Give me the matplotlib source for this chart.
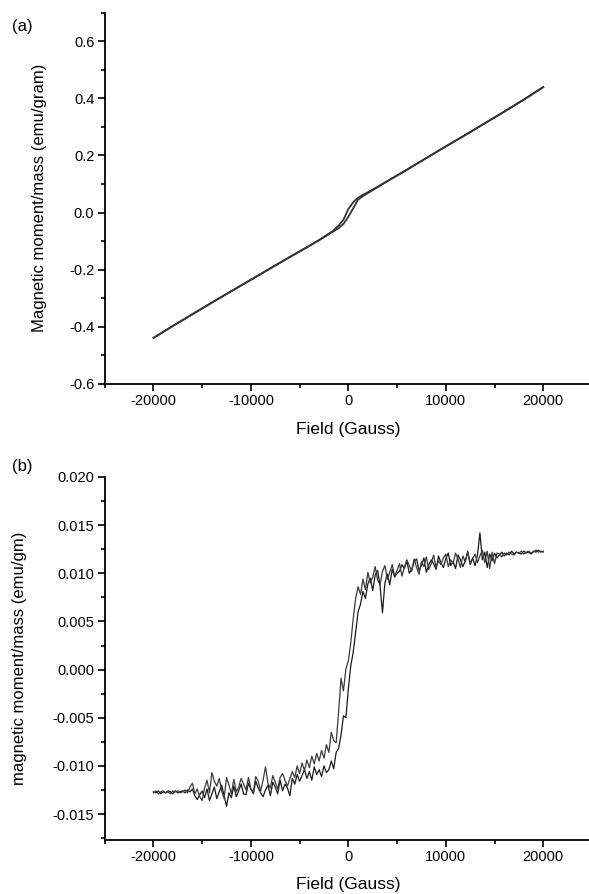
import numpy as np
import matplotlib.pyplot as plt
from matplotlib.ticker import MultipleLocator

plt.rcParams['font.family'] = ['Liberation Sans', 'DejaVu Sans']

# (a) hysteresis loop, emu/gram
field_a = [-20000, -18000, -16000, -14000, -12000, -10000, -8000, -6000, -4000,
           -3000, -2000, -1500, -1000, -500, 0, 500, 1000, 1500, 2000, 3000,
           4000, 6000, 8000, 10000, 12000, 14000, 16000, 18000, 20000]
moment_a_down = [-0.440, -0.398, -0.357, -0.316, -0.276, -0.236, -0.196, -0.156,
                 -0.117, -0.097, -0.076, -0.062, -0.046, -0.025, 0.012, 0.036,
                 0.052, 0.062, 0.071, 0.090, 0.110, 0.150, 0.191, 0.232, 0.272,
                 0.313, 0.354, 0.396, 0.440]
moment_a_up = [-0.440, -0.398, -0.357, -0.316, -0.276, -0.236, -0.196, -0.156,
               -0.117, -0.097, -0.074, -0.066, -0.055, -0.040, -0.015, 0.015,
               0.045, 0.058, 0.068, 0.089, 0.110, 0.150, 0.191, 0.232, 0.272,
               0.313, 0.354, 0.396, 0.440]

# (b) hysteresis loop, field in Gauss, moment in 1e-3 emu/gm
field_b = [-20000, -19750, -19500, -19250, -19000, -18750, -18500, -18250,
           -18000, -17750, -17500, -17250, -17000, -16750, -16500, -16250,
           -16000, -15750, -15500, -15250, -15000, -14750, -14500, -14250,
           -14000, -13750, -13500, -13250, -13000, -12750, -12500, -12250,
           -12000, -11750, -11500, -11250, -11000, -10750, -10500, -10250,
           -10000, -9750, -9500, -9250, -9000, -8750, -8500, -8250,
           -8000, -7750, -7500, -7250, -7000, -6750, -6500, -6250,
           -6000, -5750, -5500, -5250, -5000, -4750, -4500, -4250,
           -4000, -3750, -3500, -3250, -3000, -2750, -2500, -2250,
           -2000, -1750, -1500, -1250, -1000, -750, -500, -250,
           0,
           250, 500, 750, 1000, 1250, 1500, 1750, 2000,
           2250, 2500, 2750, 3000, 3250, 3500, 3750, 4000,
           4250, 4500, 4750, 5000, 5250, 5500, 5750, 6000,
           6250, 6500, 6750, 7000, 7250, 7500, 7750, 8000,
           8250, 8500, 8750, 9000, 9250, 9500, 9750, 10000,
           10250, 10500, 10750, 11000, 11250, 11500, 11750, 12000,
           12250, 12500, 12750, 13000, 13250, 13500, 13750, 14000,
           14250, 14500, 14750, 15000, 15250, 15500, 15750, 16000,
           16250, 16500, 16750, 17000, 17250, 17500, 17750, 18000,
           18250, 18500, 18750, 19000, 19250, 19500, 19750, 20000]
moment_b_up = [
    -12.7, -12.8, -12.6, -12.9, -12.7, -12.8, -12.6, -12.7, -12.9, -12.6,
    -12.8, -12.7, -12.6, -12.8, -12.5, -12.7, -12.4,
    -13.1, -13.5, -13.0, -12.6, -13.3, -12.4, -13.6, -12.9, -12.2, -13.4,
    -12.7, -12.0, -13.1, -14.2, -12.8, -13.3,
    -12.1, -13.2, -12.6, -11.9, -12.9, -13.0, -11.8, -12.4, -12.9, -11.6,
    -12.3, -12.8, -13.2, -12.5, -12.0, -13.1, -11.7, -12.2, -12.9, -11.5,
    -12.6, -11.9, -12.3, -13.1,
    -11.3, -11.9, -10.9, -11.6, -11.0, -10.4, -11.3, -10.6, -11.5, -10.1,
    -10.9, -10.4, -11.1, -10.0, -10.7, -10.4, -9.5, -10.3,
    -8.6, -8.2, -6.8, -4.8, -5.0, -2.0, 0.4, 1.8, 3.9, 6.0, 6.8,
    8.1, 7.4, 8.9, 9.5, 8.2, 9.8, 10.3, 8.7, 5.9, 9.0, 9.9, 8.8, 10.4, 9.6,
    10.0,
    10.2, 10.9, 10.5, 11.3, 10.0, 10.4, 11.2, 11.5, 10.3, 10.8, 11.6, 10.1,
    10.9, 11.4, 11.0, 10.4, 11.8, 11.1, 10.6, 11.5, 12.1, 10.8, 11.2, 10.5,
    11.9, 11.4, 10.7, 11.3, 12.2, 11.0, 11.6, 10.8, 11.9,
    14.2, 11.4, 12.2, 10.6, 12.0, 11.3, 12.1, 11.6,
    11.9, 12.2, 11.8, 12.1, 11.9, 12.3, 12.0, 12.2, 12.1, 12.0, 12.3, 12.1,
    12.2, 12.0, 12.3, 12.2, 12.4, 12.2, 12.3]
moment_b_down = [
    -12.8, -12.6, -12.9, -12.7, -12.6, -12.8, -12.7, -12.9, -12.6, -12.7,
    -12.6, -12.8, -12.7, -12.5, -12.8, -12.2, -11.8,
    -12.9, -12.4, -13.2, -13.6, -12.3, -11.5, -12.8, -10.7, -11.6, -12.1,
    -11.3, -12.6, -13.4, -11.2, -12.0, -12.9,
    -11.4, -12.7, -12.2, -11.3, -11.9, -12.5, -11.2, -12.4, -12.7, -11.1,
    -11.6, -12.6, -11.5, -10.1, -11.8, -12.3, -11.0, -11.7, -12.4, -11.2,
    -10.8, -11.5, -12.1, -11.3,
    -10.6, -11.2, -10.0, -10.8, -9.7, -10.5, -9.4, -10.2, -9.0, -9.8,
    -8.7, -9.5, -8.4, -9.2, -7.8, -8.6, -6.5, -7.4,
    -7.6, -4.4, -0.9, -2.2, 0.1, 0.9, 2.8, 5.3, 7.4, 8.6, 7.8,
    9.4, 8.3, 10.1, 9.0, 9.6, 10.7, 9.3, 8.8, 10.2, 10.8, 9.4, 10.1, 10.9,
    9.7, 10.3,
    11.0, 9.7, 10.6, 11.4, 10.8, 10.2, 11.5, 10.6, 9.9, 11.2, 10.7, 11.7,
    10.4, 11.0, 11.9, 10.6, 11.3, 10.9, 11.6, 12.0, 10.7, 11.4, 11.0, 12.1,
    11.5, 10.6, 11.8, 11.2, 12.3, 10.9, 11.5, 12.0, 11.1,
    11.8, 12.4, 11.1, 12.3, 10.5, 12.2, 11.0, 12.1,
    12.0, 11.7, 12.1, 11.9, 12.2, 12.0, 11.9, 12.2, 12.1, 12.3, 12.0, 12.2,
    12.3, 12.1, 12.2, 12.4, 12.2, 12.3, 12.2]

fig = plt.figure(figsize=(5.89, 8.94), dpi=100)
ax1 = fig.add_axes([104.7 / 589, 1 - 383.5 / 894, 487.3 / 589, 370.5 / 894])
ax2 = fig.add_axes([104.7 / 589, 1 - 840 / 894, 487.3 / 589, 363 / 894])

ax1.plot(field_a, moment_a_down, color='#333333', lw=1.3)
ax1.plot(field_a, moment_a_up, color='#333333', lw=1.3)
ax2.plot(field_b, np.array(moment_b_up) * 1e-3, color='#1a1a1a', lw=0.9)
ax2.plot(field_b, np.array(moment_b_down) * 1e-3, color='#3a3a3a', lw=0.9)

for ax in (ax1, ax2):
    ax.set_xlim(-25000, 25000)
    ax.spines['top'].set_visible(False)
    ax.spines['right'].set_visible(False)
    ax.spines['left'].set_linewidth(1.3)
    ax.spines['bottom'].set_linewidth(1.3)
    ax.xaxis.set_minor_locator(MultipleLocator(5000))
    ax.tick_params(which='major', direction='out', length=5, width=1.2,
                   labelsize=10.5, pad=2.5)
    ax.tick_params(which='minor', direction='out', length=3, width=1.2)
    ax.set_xticks([-20000, -10000, 0, 10000, 20000])
    ax.set_xticklabels(['-20000', '-10000', '0', '10000', '20000'])

ax1.set_ylim(-0.6, 0.7)
ax1.yaxis.set_minor_locator(MultipleLocator(0.1))
ax1.set_yticks([-0.6, -0.4, -0.2, 0.0, 0.2, 0.4, 0.6])
ax1.set_yticklabels(['-0.6', '-0.4', '-0.2', '0.0', '0.2', '0.4', '0.6'])
ax1.set_xlabel('Field (Gauss)', fontsize=12.5, labelpad=10)
ax1.set_ylabel('Magnetic moment/mass (emu/gram)', fontsize=12)
ax1.yaxis.set_label_coords(-0.118, 0.5)

ax2.set_ylim(-0.0177, 0.020)
ax2.yaxis.set_minor_locator(MultipleLocator(0.0025))
ax2.set_yticks([-0.015, -0.010, -0.005, 0.0, 0.005, 0.010, 0.015, 0.020])
ax2.set_yticklabels(['-0.015', '-0.010', '-0.005', '0.000', '0.005', '0.010',
                     '0.015', '0.020'])
ax2.set_xlabel('Field (Gauss)', fontsize=12.5, labelpad=9)
ax2.set_ylabel('magnetic moment/mass (emu/gm)', fontsize=12)
ax2.yaxis.set_label_coords(-0.16, 0.5)

fig.text(12 / 589, 1 - 26 / 894, '(a)', fontsize=12, va='center')
fig.text(12 / 589, 1 - 466 / 894, '(b)', fontsize=12, va='center')

fig.savefig('out.png', dpi=100)
